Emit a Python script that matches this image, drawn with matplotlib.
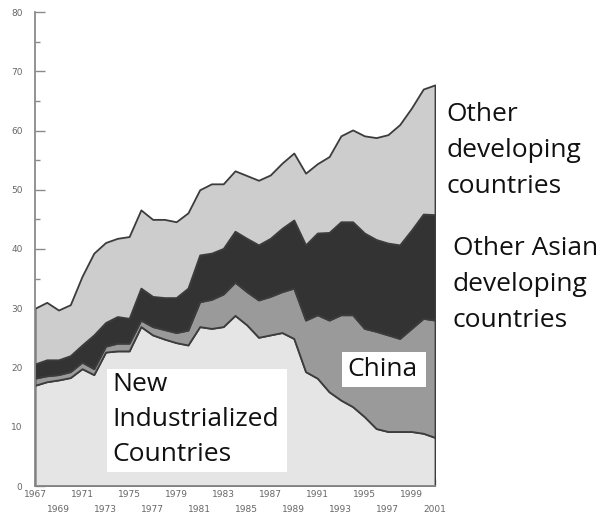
import matplotlib
matplotlib.use("Agg")
import matplotlib.pyplot as plt
import numpy as np
from matplotlib.patches import Rectangle

# anni 1967-2001
years = list(range(1967, 2002))

# valori cumulati (bordo superiore di ogni fascia)
cum_nic = [17.0, 17.6, 17.9, 18.3, 19.8, 18.8, 22.6, 22.8, 22.8, 26.9,
           25.5, 24.8, 24.2, 23.8, 26.9, 26.6, 26.9, 28.8, 27.2, 25.1,
           25.5, 25.9, 24.9, 19.3, 18.2, 15.9, 14.5, 13.4, 11.7, 9.7,
           9.2, 9.2, 9.2, 8.9, 8.2]
cum_china = [18.2, 18.6, 18.8, 19.3, 20.9, 19.8, 23.6, 24.1, 24.1, 28.0,
             26.9, 26.4, 25.9, 26.3, 31.1, 31.5, 32.4, 34.4, 32.8, 31.4,
             32.0, 32.8, 33.4, 28.0, 28.9, 28.0, 28.9, 28.9, 26.6, 26.1,
             25.5, 24.9, 26.6, 28.3, 28.0]
cum_asia = [20.6, 21.3, 21.3, 22.0, 23.8, 25.5, 27.6, 28.6, 28.3, 33.4,
            32.0, 31.8, 31.8, 33.4, 39.0, 39.3, 40.1, 43.0, 41.8, 40.7,
            41.8, 43.5, 44.9, 40.7, 42.7, 42.8, 44.6, 44.6, 42.7, 41.6,
            41.0, 40.7, 43.2, 45.9, 45.8]
cum_total = [30.0, 31.0, 29.7, 30.6, 35.4, 39.3, 41.1, 41.8, 42.1, 46.6,
             45.0, 45.0, 44.6, 46.1, 50.0, 51.0, 51.0, 53.2, 52.4, 51.6,
             52.5, 54.5, 56.2, 52.8, 54.4, 55.6, 59.1, 60.1, 59.1, 58.8,
             59.3, 61.0, 63.8, 67.0, 67.7]

colori = ['#e5e5e5', '#9a9a9a', '#333333', '#cdcdcd']
bordo = '#3c3c3c'

W, H = 600, 515
fig = plt.figure(figsize=(6, 5.15), dpi=100)
ax = fig.add_axes([35 / W, 29 / H, 400 / W, 474 / H])

x = np.array(years)
strati = [np.zeros(len(years)), cum_nic, cum_china, cum_asia, cum_total]
for k in range(4):
    ax.fill_between(x, strati[k], strati[k + 1], facecolor=colori[k],
                    edgecolor=bordo, linewidth=1.3, zorder=2)

ax.set_xlim(1967, 2001)
ax.set_ylim(0, 80)

# assi
for s in ['top', 'right']:
    ax.spines[s].set_visible(False)
for s in ['left', 'bottom']:
    ax.spines[s].set_color('#8a8a8a')
    ax.spines[s].set_linewidth(1.3)

ax.set_yticks(range(0, 81, 10))
ax.set_yticks(range(5, 80, 10), minor=True)
dispari = [a for a in years if a % 2 == 1]
pari = [a for a in years if a % 2 == 0]
ax.set_xticks(dispari)
ax.set_xticks(pari, minor=True)
etichette = [str(a) if (a - 1967) % 4 == 0 else '\n' + str(a) for a in dispari]
ax.set_xticklabels(etichette)

font_tick = ['Liberation Sans Narrow', 'DejaVu Sans']
ax.tick_params(axis='y', which='major', direction='in', length=7, width=1,
               color='#8a8a8a', pad=9, labelsize=6.5, labelcolor='#666666')
ax.tick_params(axis='y', which='minor', direction='in', length=3.5, width=1,
               color='#8a8a8a')
ax.tick_params(axis='x', which='major', direction='in', length=5, width=1,
               color='#8a8a8a', pad=3, labelsize=6.5, labelcolor='#666666')
ax.tick_params(axis='x', which='minor', direction='in', length=2.5, width=1,
               color='#8a8a8a')
for t in ax.get_xticklabels() + ax.get_yticklabels():
    t.set_family(font_tick)
for t in ax.get_xticklabels():
    t.set_linespacing(1.9)

# etichette di testo
font_testo = ['Open Sans', 'DejaVu Sans']
col_testo = '#111111'


def px(xp, yp):
    return xp / W, 1 - yp / H


fig.patches.append(Rectangle(px(107, 472), 180 / W, 103 / H, transform=fig.transFigure,
                             facecolor='white', edgecolor='none', zorder=5))
fig.patches.append(Rectangle(px(342, 387), 84 / W, 35 / H, transform=fig.transFigure,
                             facecolor='white', edgecolor='none', zorder=5))

fig.text(*px(446, 102), 'Other\ndeveloping\ncountries', fontsize=19, family=font_testo,
         color=col_testo, va='top', ha='left', linespacing=1.58, zorder=6)
fig.text(*px(453, 236), 'Other Asian\ndeveloping\ncountries', fontsize=19, family=font_testo,
         color=col_testo, va='top', ha='left', linespacing=1.58, zorder=6)
fig.text(*px(112, 372), 'New\nIndustrialized\nCountries', fontsize=19, family=font_testo,
         color=col_testo, va='top', ha='left', linespacing=1.53, zorder=6)
fig.text(*px(347, 357), 'China', fontsize=19, family=font_testo,
         color=col_testo, va='top', ha='left', zorder=6)

fig.savefig('out.png', dpi=100)
